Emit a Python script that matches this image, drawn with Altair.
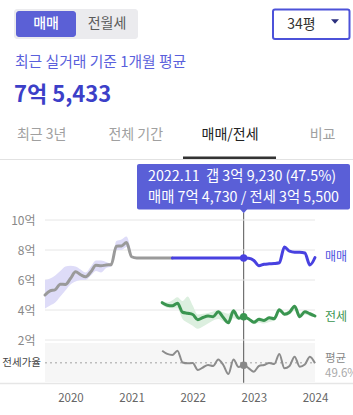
import altair as alt
import pandas as pd

FONT = "Noto Sans CJK KR"

# ---------------- data ----------------
gray_months = ["2019-08", "2019-09", "2019-10", "2019-11", "2019-12",
               "2020-01", "2020-02", "2020-03", "2020-04", "2020-05", "2020-06",
               "2020-07", "2020-08", "2020-09", "2020-10", "2020-11", "2020-12",
               "2021-01", "2021-02", "2021-03", "2021-04", "2021-05", "2021-06",
               "2021-07", "2021-08", "2021-09"]
gray_price = [5.0, 5.27, 5.35, 5.72, 5.7,
              6.1, 6.55, 6.35, 6.22, 6.55, 6.98,
              6.95, 7.0, 7.02, 8.25, 8.27, 8.5,
              7.55, 7.47, 7.47, 7.47, 7.47, 7.47,
              7.47, 7.47, 7.47]

band_months = gray_months[:18]
band_lo = [4.1, 4.3, 4.5, 4.9, 5.3, 5.7, 5.9, 6.0, 6.0, 6.3, 6.6, 6.5, 6.8, 6.9, 8.0, 8.0, 8.2, 7.5]
band_hi = [6.0, 6.1, 6.3, 6.6, 6.9, 6.95, 6.9, 6.7, 6.5, 6.9, 7.3, 7.3, 7.2, 7.1, 8.6, 8.7, 8.9, 7.6]

sale_months = ["2021-09", "2021-10", "2021-11", "2021-12",
               "2022-01", "2022-02", "2022-03", "2022-04", "2022-05", "2022-06",
               "2022-07", "2022-08", "2022-09", "2022-10", "2022-11", "2022-12",
               "2023-01", "2023-02", "2023-03", "2023-04", "2023-05", "2023-06",
               "2023-07", "2023-08", "2023-09", "2023-10", "2023-11", "2023-12",
               "2024-01"]
sale_price = [7.47, 7.47, 7.47, 7.47,
              7.47, 7.47, 7.47, 7.47, 7.47, 7.47,
              7.47, 7.47, 7.47, 7.47, 7.47, 7.45,
              7.3, 6.95, 7.05, 7.08, 7.1, 7.15,
              8.2, 7.92, 7.85, 7.85, 7.8, 7.0,
              7.5]

jeonse_months = ["2021-07", "2021-08"] + sale_months
jeonse_price = [4.49, 4.32, 4.28, 4.45, 3.85, 3.78,
                3.7, 3.35, 3.5, 3.6, 3.55, 3.88, 3.5, 3.15, 3.95, 3.45, 3.55, 3.4,
                3.18, 3.38, 3.3, 3.48, 3.42, 4.02, 3.72, 3.85, 4.25, 3.55, 3.88, 3.75,
                3.6]
jeonse_lo = [4.35, 4.15, 4.1, 4.1, 3.4, 3.15,
             2.95, 2.75, 2.9, 3.1, 3.3, 3.4, 3.25, 3.05, 3.45, 3.35, 3.45, 3.3,
             3.05, 3.15, 3.1, 3.2, 3.3, 3.85, 3.6, 3.7, 3.95, 3.45, 3.7, 3.6,
             3.5]
jeonse_hi = [4.6, 4.5, 4.65, 4.85, 4.6, 4.9,
             4.3, 3.7, 3.75, 3.8, 3.9, 4.0, 3.85, 3.75, 4.05, 3.65, 3.65, 3.5,
             3.3, 3.5, 3.45, 3.6, 3.55, 4.1, 3.85, 4.0, 4.35, 3.8, 3.95, 3.85,
             3.7]

ratio_months = jeonse_months
ratio_pct = [59.6, 56.9, 56.0, 59.6, 49.8, 49.1,
             49.35, 43.5, 45.6, 47.7, 46.85, 52.3, 47.7, 40.2, 52.3, 46.0, 47.5, 44.9,
             42.1, 46.85, 47.7, 49.35, 48.5, 56.85, 44.9, 46.85, 54.6, 46.3, 48.1, 54.6,
             49.1]
ratio_avg = 49.6

cursor_month = "2022-11"
price_ticks = [2, 4, 6, 8, 10]
year_ticks = [2020, 2021, 2022, 2023, 2024]

seg_labels = ["매매", "전월세"]
size_label = "34평"
sub_title = "최근 실거래 기준 1개월 평균"
big_value = "7억 5,433"
tabs = ["최근 3년", "전체 기간", "매매/전세", "비교"]
tip_line1 = "2022.11\u00a0 갭 3억 9,230 (47.5%)"
tip_line2 = "매매 7억 4,730 / 전세 3억 5,500"


def to_t(m):
    y, mo = m.split("-")
    return int(y) + (int(mo) - 1) / 12


gray_df = pd.DataFrame({"t": [to_t(m) for m in gray_months], "v": gray_price})
band_df = pd.DataFrame({"t": [to_t(m) for m in band_months], "lo": band_lo, "hi": band_hi})
sale_df = pd.DataFrame({"t": [to_t(m) for m in sale_months], "v": sale_price})
jeonse_df = pd.DataFrame({"t": [to_t(m) for m in jeonse_months], "v": jeonse_price,
                          "lo": jeonse_lo, "hi": jeonse_hi})
ratio_df = pd.DataFrame({"t": [to_t(m) for m in ratio_months], "r": ratio_pct})
grid_df = pd.DataFrame({"v": price_ticks})
avg_df = pd.DataFrame({"r": [ratio_avg]})
ct = to_t(cursor_month)
cur_df = pd.DataFrame({
    "t": [ct],
    "sale": [sale_price[sale_months.index(cursor_month)]],
    "jeonse": [jeonse_price[jeonse_months.index(cursor_month)]],
    "ratio": [ratio_pct[ratio_months.index(cursor_month)]],
})
ONE = pd.DataFrame({"a": [0]})

# ---------------- scales / axes ----------------
XS = alt.Scale(domain=[2019 + 7 / 12, 2024.0], range=[45, 315], nice=False, zero=False)
PY = alt.Scale(domain=[2, 10], range=[340, 220], nice=False, zero=False)
RY = alt.Scale(domain=[33.5, 66], range=[382, 343], nice=False, zero=False)

XAX = alt.Axis(orient="bottom", offset=-32, values=year_ticks, format="d", domain=False,
               ticks=False, grid=False, labelPadding=9, labelFlush=False, labelOverlap=False,
               labelFont=FONT, labelFontSize=11.5, labelColor="#666", title=None)
YAX = alt.Axis(orient="left", offset=-37, values=price_ticks, labelExpr="datum.value + '억'",
               domain=False, ticks=False, grid=False, labelPadding=2, labelFont=FONT,
               labelFontSize=12, labelColor="#888", title=None, labelBaseline="middle")

X = lambda: alt.X("t:Q", scale=XS, axis=XAX)
TRI = "M-1,-0.55L1,-0.55L0,0.55Z"


def txt(text, x, y, size=14, color="#333", align="left", weight="normal"):
    return alt.Chart(ONE).mark_text(text=text, fontSize=size, color=color, align=align,
                                    baseline="middle", fontWeight=weight, font=FONT).encode(
        x=alt.value(x), y=alt.value(y))


def box(x1, x2, y1, y2, **kw):
    return alt.Chart(ONE).mark_rect(**kw).encode(
        x=alt.value(x1), x2=alt.value(x2), y=alt.value(y1), y2=alt.value(y2))


# ---------------- price panel ----------------
grid = alt.Chart(grid_df).mark_rule(color="#e6e6e6", strokeWidth=1).encode(
    y=alt.Y("v:Q", scale=PY, axis=YAX), x=alt.value(45), x2=alt.value(315))
gband = alt.Chart(band_df).mark_area(color="#dedcf8", interpolate="monotone").encode(
    x=X(), y=alt.Y("lo:Q", scale=PY, axis=YAX), y2="hi:Q")
jband = alt.Chart(jeonse_df).mark_area(color="#dcefdf", interpolate="monotone").encode(
    x=X(), y=alt.Y("lo:Q", scale=PY, axis=YAX), y2="hi:Q")
gline = alt.Chart(gray_df).mark_line(color="#9a9a9a", strokeWidth=3, interpolate="monotone",
                                     strokeCap="round", strokeJoin="round").encode(
    x=X(), y=alt.Y("v:Q", scale=PY, axis=YAX))
sline = alt.Chart(sale_df).mark_line(color="#4841e0", strokeWidth=3, interpolate="monotone",
                                     strokeCap="round", strokeJoin="round").encode(
    x=X(), y=alt.Y("v:Q", scale=PY, axis=YAX))
jline = alt.Chart(jeonse_df).mark_line(color="#3a9550", strokeWidth=3, interpolate="monotone",
                                       strokeCap="round", strokeJoin="round").encode(
    x=X(), y=alt.Y("v:Q", scale=PY, axis=YAX))
sdot = alt.Chart(cur_df).mark_circle(color="#4841e0", size=55, opacity=1).encode(
    x=X(), y=alt.Y("sale:Q", scale=PY, axis=YAX))
jdot = alt.Chart(cur_df).mark_circle(color="#3a9550", size=55, opacity=1).encode(
    x=X(), y=alt.Y("jeonse:Q", scale=PY, axis=YAX))
price_panel = alt.layer(grid, gband, jband, gline, sline, jline, sdot, jdot)

# ---------------- ratio panel ----------------
rbg = box(45, 315, 343, 382, color="#f6f6f6")
avg = alt.Chart(avg_df).mark_rule(color="#bdbdbd", strokeWidth=1.5, strokeDash=[2, 3]).encode(
    y=alt.Y("r:Q", scale=RY, axis=None), x=alt.value(45), x2=alt.value(315))
rline = alt.Chart(ratio_df).mark_line(color="#8c8c8c", strokeWidth=2, interpolate="monotone").encode(
    x=X(), y=alt.Y("r:Q", scale=RY, axis=None))
cursor = alt.Chart(cur_df).mark_rule(color="#555", strokeWidth=1).encode(
    x=X(), y=alt.value(213), y2=alt.value(383))
rdot = alt.Chart(cur_df).mark_circle(color="#888", size=55, opacity=1).encode(
    x=X(), y=alt.Y("ratio:Q", scale=RY, axis=None))
ratio_panel = alt.layer(rbg, avg, rline, cursor, rdot)

# ---------------- tooltip ----------------
tip_box = box(137, 350, 164, 209.5, color="#5a5fd7", cornerRadius=2)
tip_ptr = alt.Chart(cur_df).mark_point(shape=TRI, filled=True, size=64, color="#5a5fd7",
                                       opacity=1).encode(x=X(), y=alt.value(211))
tip_t1 = txt(tip_line1, 148, 177, size=14.3, color="white")
tip_t2 = txt(tip_line2, 148, 197.5, size=14.3, color="white")

# ---------------- header UI ----------------
ui = [
    box(14, 138, 9, 39, color="#ebebee", cornerRadius=3),
    box(16, 76, 11, 37, color="#5b60d6", cornerRadius=3),
    txt(seg_labels[0], 46, 24, size=14, color="white", align="center", weight=500),
    txt(seg_labels[1], 107, 24, size=14, color="#5a5a5a", align="center"),
    box(273, 349.5, 9.5, 39, fill="white", stroke="#4c52d9", strokeWidth=2, cornerRadius=2),
    txt(size_label, 301.5, 24.5, size=14, color="#333", align="center"),
    alt.Chart(ONE).mark_point(shape=TRI, filled=True, size=64, color="#2b2f7d", opacity=1).encode(
        x=alt.value(335), y=alt.value(21.5)),
    txt(sub_title, 15, 63, size=14.8, color="#5a5fdc"),
    txt(big_value, 14, 95, size=22, color="#3c3fc8", weight="bold"),
    txt(tabs[0], 41.7, 135, size=14, color="#a0a0a0", align="center"),
    txt(tabs[1], 135.8, 135, size=14, color="#a0a0a0", align="center"),
    txt(tabs[2], 230, 135, size=14, color="#222", align="center"),
    txt(tabs[3], 322.5, 135, size=14, color="#a0a0a0", align="center"),
    alt.Chart(ONE).mark_rule(color="#e2e2e2", strokeWidth=1).encode(
        x=alt.value(0), x2=alt.value(353), y=alt.value(159.5)),
    box(183, 276, 156.5, 159, color="#333"),
    alt.Chart(ONE).mark_rule(color="#e6e6e6", strokeWidth=1.5).encode(
        x=alt.value(0), x2=alt.value(353), y=alt.value(383.5)),
    txt("매매", 325, 257, size=12, color="#4b4fe0"),
    txt("전세", 325, 317, size=12, color="#3a9550"),
    txt("평균", 325, 358.5, size=11.5, color="#888"),
    txt("49.6%", 325, 373.5, size=11.5, color="#aaa"),
    txt("전세가율", 41, 363, size=10.5, color="#444", align="right"),
]

chart = alt.layer(
    ratio_panel, price_panel, tip_box, tip_ptr, tip_t1, tip_t2, *ui
).resolve_scale(y="independent").properties(
    width=353, height=415, padding=0,
    autosize=alt.AutoSizeParams(type="none"), background="white",
).configure_view(stroke=None)

chart.save("out.html", embed_options={"renderer": "svg", "actions": False})
